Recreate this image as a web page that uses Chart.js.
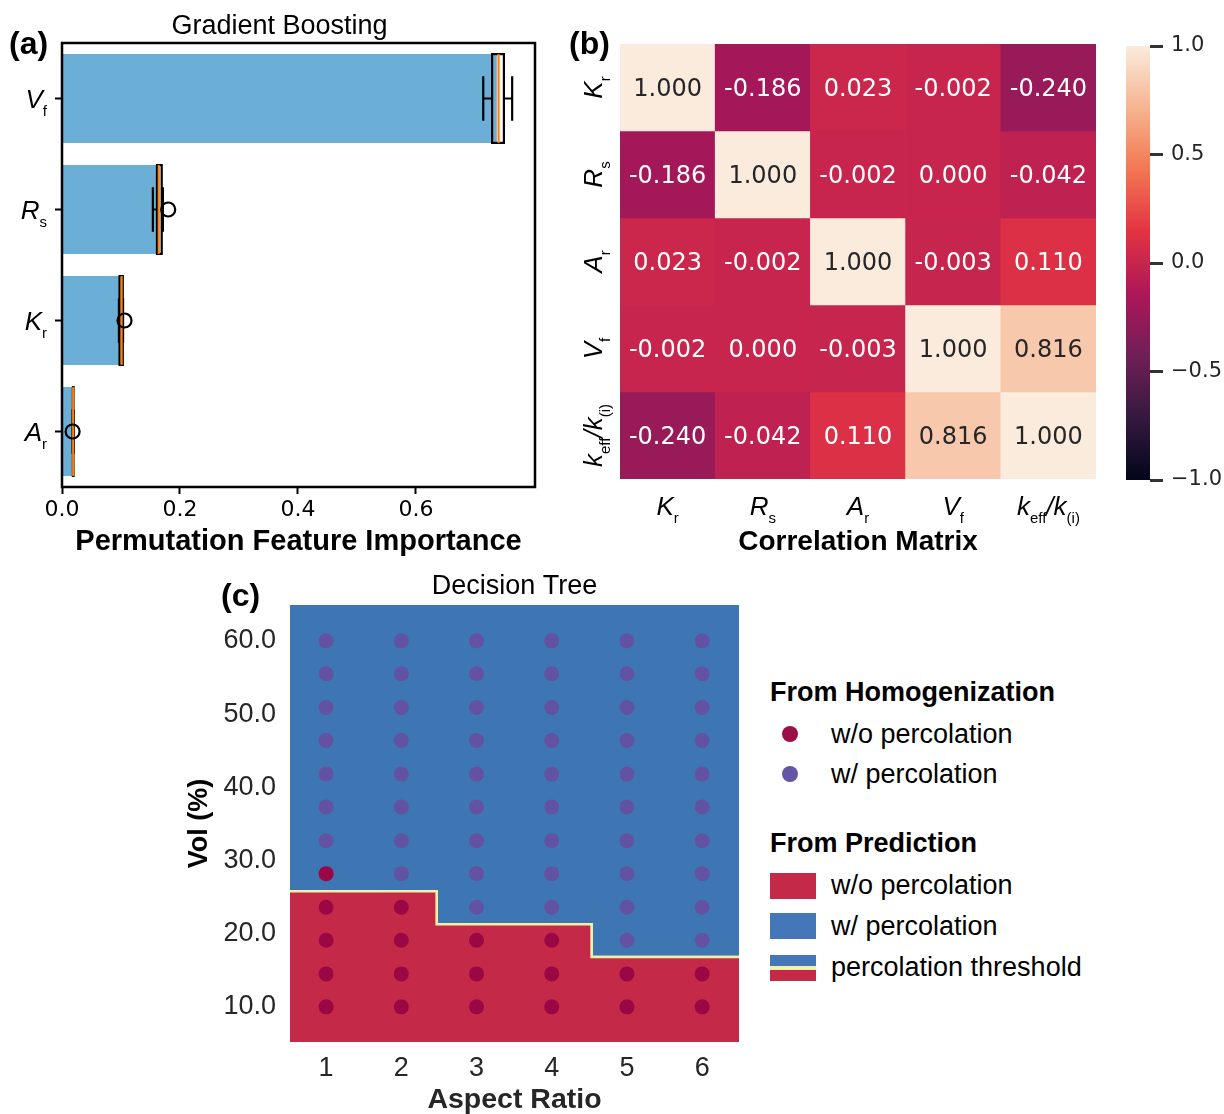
<!DOCTYPE html>
<html>
<head>
<meta charset="utf-8">
<script src="https://cdn.jsdelivr.net/npm/chart.js@4.4.0/dist/chart.umd.min.js"></script>
<style>
  body { margin: 0; background: #fff; }
  #fig { position: relative; width: 1224px; height: 1114px; overflow: hidden; font-family: "Liberation Sans", Arial, sans-serif; color: #000; }
  canvas { position: absolute; }
  .plab { position: absolute; font-weight: bold; font-size: 32px; line-height: 32px; }
  .lg-h { position: absolute; font-weight: bold; font-size: 27px; line-height: 28px; white-space: nowrap; }
  .lg-t { position: absolute; font-size: 27px; line-height: 28px; white-space: nowrap; }
  .dot { position: absolute; width: 16px; height: 16px; border-radius: 50%; }
  .sw { position: absolute; width: 46px; height: 26px; }
</style>
</head>
<body>
<div id="fig">
  <canvas id="cA" width="560" height="560" style="left:0px;top:0px"></canvas>
  <canvas id="cB" width="550" height="560" style="left:560px;top:0px"></canvas>
  <canvas id="cBar" width="114" height="560" style="left:1110px;top:0px"></canvas>
  <canvas id="cC" width="570" height="549" style="left:180px;top:565px"></canvas>

  <div class="plab" style="left:9px;top:27px">(a)</div>
  <div class="plab" style="left:569px;top:27px">(b)</div>
  <div class="plab" style="left:221px;top:579px">(c)</div>

  <div class="lg-h" style="left:770px;top:678px">From Homogenization</div>
  <div class="dot" style="left:782px;top:726px;background:#9b0f46"></div>
  <div class="lg-t" style="left:831px;top:720px">w/o percolation</div>
  <div class="dot" style="left:782px;top:766px;background:#6455a5"></div>
  <div class="lg-t" style="left:831px;top:760px">w/ percolation</div>

  <div class="lg-h" style="left:770px;top:829px">From Prediction</div>
  <div class="sw" style="left:770px;top:873px;background:#c42a48"></div>
  <div class="lg-t" style="left:831px;top:871px">w/o percolation</div>
  <div class="sw" style="left:770px;top:913px;background:#4477b8"></div>
  <div class="lg-t" style="left:831px;top:912px">w/ percolation</div>
  <div class="sw" style="left:770px;top:955px;background:linear-gradient(#4477b8 0,#4477b8 11px,#f6f1a6 11px,#f6f1a6 15px,#c42a48 15px,#c42a48 26px)"></div>
  <div class="lg-t" style="left:831px;top:953px">percolation threshold</div>
</div>

<script>
// ---- (a) permutation importance ----
const features = ['Vf', 'Rs', 'Kr', 'Ar'];
const featureParts = [[['V', 0], ['f', 1]], [['R', 0], ['s', 1]], [['K', 0], ['r', 1]], [['A', 0], ['r', 1]]];
const importanceMean = [0.737, 0.164, 0.101, 0.019];
const boxQ1 = [0.729, 0.161, 0.0975, 0.0185];
const boxMedian = [0.740, 0.164, 0.101, 0.019];
const boxQ3 = [0.749, 0.169, 0.103, 0.0195];
const whiskerLow = [0.714, 0.154, 0.0965, 0.018];
const whiskerHigh = [0.763, 0.171, 0.1035, 0.020];
const fliers = [[], [0.180], [0.106], [0.018]];
const importanceTicks = [0, 0.2, 0.4, 0.6];

// ---- (b) correlation matrix ----
const corrNames = ['Kr', 'Rs', 'Ar', 'Vf', 'keff/k(i)'];
const corrParts = [
  [['K', 0], ['r', 1]], [['R', 0], ['s', 1]], [['A', 0], ['r', 1]], [['V', 0], ['f', 1]],
  [['k', 0], ['eff', 1], ['/k', 0], ['(i)', 1]]
];
const corrMatrix = [
  [1.000, -0.186, 0.023, -0.002, -0.240],
  [-0.186, 1.000, -0.002, 0.000, -0.042],
  [0.023, -0.002, 1.000, -0.003, 0.110],
  [-0.002, 0.000, -0.003, 1.000, 0.816],
  [-0.240, -0.042, 0.110, 0.816, 1.000]
];
const colorbarTicks = [-1, -0.5, 0, 0.5, 1];

// ---- (c) decision tree ----
const aspectRatios = [1, 2, 3, 4, 5, 6];
const volLevels = [10.0, 14.5, 19.1, 23.6, 28.2, 32.7, 37.3, 41.8, 46.4, 50.9, 55.5, 60.0];
const firstPercolatingLevel = [5, 4, 3, 3, 2, 2]; // index in volLevels where each AR starts percolating
const boundaryAR = [0.52, 2.47, 2.47, 4.53, 4.53, 6.49];
const boundaryVol = [25.8, 25.8, 21.3, 21.3, 16.8, 16.8];
const volTicks = [10, 20, 30, 40, 50, 60];

const rocketStops = [
  [0, [3, 5, 26]], [1 / 7, [53, 25, 62]], [2 / 7, [112, 31, 87]], [3 / 7, [173, 23, 89]],
  [4 / 7, [225, 51, 66]], [5 / 7, [243, 118, 81]], [6 / 7, [246, 180, 143]], [1, [250, 235, 221]]
];
function rocket(v) {
  const t = Math.max(0, Math.min(1, (v + 1) / 2));
  for (let i = 1; i < rocketStops.length; i++) {
    if (t <= rocketStops[i][0]) {
      const [t0, c0] = rocketStops[i - 1], [t1, c1] = rocketStops[i];
      const f = (t - t0) / (t1 - t0);
      const c = c0.map((a, k) => Math.round(a + (c1[k] - a) * f));
      return `rgb(${c[0]},${c[1]},${c[2]})`;
    }
  }
  return 'rgb(250,235,221)';
}

Chart.defaults.font.family = '"Liberation Sans", Arial, sans-serif';
Chart.defaults.color = '#000';
Chart.defaults.animation = false;
Chart.defaults.responsive = false;
Chart.defaults.devicePixelRatio = 1;
Chart.defaults.plugins.legend.display = false;
Chart.defaults.plugins.tooltip.enabled = false;

// italic symbol with upright subscript
function drawRich(ctx, parts, x, y, base, sub, align, rot, color) {
  const fontOf = s => s ? `${sub}px "Liberation Sans"` : `italic ${base}px "Liberation Sans"`;
  let w = 0;
  parts.forEach(([t, s]) => { ctx.font = fontOf(s); w += ctx.measureText(t).width; });
  ctx.save();
  ctx.translate(x, y);
  if (rot) ctx.rotate(rot);
  ctx.fillStyle = color;
  ctx.textAlign = 'left';
  ctx.textBaseline = 'alphabetic';
  let cx = align === 'right' ? -w : -w / 2;
  const baseLine = base * 0.36;
  parts.forEach(([t, s]) => {
    ctx.font = fontOf(s);
    ctx.fillText(t, cx, s ? baseLine + base * 0.3 : baseLine);
    cx += ctx.measureText(t).width;
  });
  ctx.restore();
}

const boxPlugin = {
  id: 'boxes',
  afterDatasetsDraw(chart) {
    const { ctx, scales: { x, y } } = chart;
    const meta = chart.getDatasetMeta(0);
    const px = v => x.getPixelForValue(v);
    ctx.save();
    features.forEach((f, i) => {
      const h = meta.data[i].height;
      const cy = y.getPixelForValue(i);
      ctx.lineWidth = 2.2;
      ctx.strokeStyle = '#000';
      ctx.beginPath();
      ctx.moveTo(px(whiskerLow[i]), cy); ctx.lineTo(px(boxQ1[i]), cy);
      ctx.moveTo(px(boxQ3[i]), cy); ctx.lineTo(px(whiskerHigh[i]), cy);
      ctx.moveTo(px(whiskerLow[i]), cy - h / 4); ctx.lineTo(px(whiskerLow[i]), cy + h / 4);
      ctx.moveTo(px(whiskerHigh[i]), cy - h / 4); ctx.lineTo(px(whiskerHigh[i]), cy + h / 4);
      ctx.stroke();
      ctx.strokeRect(px(boxQ1[i]), cy - h / 2, px(boxQ3[i]) - px(boxQ1[i]), h);
      ctx.strokeStyle = '#ff7f0e';
      ctx.beginPath();
      ctx.moveTo(px(boxMedian[i]), cy - h / 2); ctx.lineTo(px(boxMedian[i]), cy + h / 2);
      ctx.stroke();
      ctx.strokeStyle = '#000';
      fliers[i].forEach(v => {
        ctx.beginPath();
        ctx.arc(px(v), cy, 7, 0, Math.PI * 2);
        ctx.stroke();
      });
    });
    ctx.restore();
  },
  afterDraw(chart) {
    const { ctx, chartArea: a, scales: { y } } = chart;
    ctx.save();
    ctx.lineWidth = 2.5;
    ctx.strokeStyle = '#000';
    ctx.strokeRect(a.left, a.top, a.right - a.left, a.bottom - a.top);
    ctx.restore();
    features.forEach((f, i) => drawRich(ctx, featureParts[i], a.left - 15, y.getPixelForValue(i), 26, 15, 'right', 0, '#000'));
  }
};

new Chart(document.getElementById('cA'), {
  type: 'bar',
  data: {
    labels: features,
    datasets: [{ data: importanceMean, backgroundColor: '#6baed6', barPercentage: 0.8, categoryPercentage: 1, borderWidth: 0 }]
  },
  options: {
    indexAxis: 'y',
    layout: { padding: { left: 24, right: 25 } },
    plugins: {
      title: { display: true, text: 'Gradient Boosting', color: '#000', font: { size: 27, weight: 'normal', lineHeight: 1 }, padding: { top: 13, bottom: 3 } }
    },
    scales: {
      x: {
        min: 0, max: 0.8017,
        afterBuildTicks: s => { s.ticks = importanceTicks.map(v => ({ value: v })); },
        afterFit: s => { s.height = 73; },
        ticks: { callback: v => v.toFixed(1), font: { family: 'DejaVu Sans', size: 22 }, color: '#000', padding: 3, maxRotation: 0 },
        grid: { drawOnChartArea: false, tickLength: 7, tickWidth: 2, tickColor: '#000' },
        border: { display: false },
        title: { display: true, text: 'Permutation Feature Importance', color: '#000', font: { size: 29, weight: 'bold', lineHeight: 1 }, padding: { top: 0, bottom: 3.5 } }
      },
      y: {
        afterFit: s => { s.width = 38; },
        ticks: { callback: () => '' },
        grid: { drawOnChartArea: false, offset: false, tickLength: 7, tickWidth: 2, tickColor: '#000' },
        border: { display: false }
      }
    }
  },
  plugins: [boxPlugin]
});

// ---- (b) heatmap from floating bars ----
const heatLabels = {
  id: 'heatLabels',
  afterDatasetsDraw(chart) {
    const { ctx, chartArea: a, scales: { x, y } } = chart;
    ctx.save();
    ctx.font = '24px "DejaVu Sans"';
    ctx.textAlign = 'center';
    ctx.textBaseline = 'middle';
    corrMatrix.forEach((row, r) => row.forEach((v, c) => {
      ctx.fillStyle = v > 0.5 ? '#262626' : '#ffffff';
      ctx.fillText(v.toFixed(3), x.getPixelForValue(c), y.getPixelForValue(r + 0.5) + 2);
    }));
    ctx.restore();
    corrParts.forEach((p, i) => {
      drawRich(ctx, p, x.getPixelForValue(i), a.bottom + 27, 26, 15, 'center', 0, '#000');
      drawRich(ctx, p, a.left - 27, y.getPixelForValue(i + 0.5), 26, 15, 'center', -Math.PI / 2, '#000');
    });
  }
};

new Chart(document.getElementById('cB'), {
  type: 'bar',
  data: {
    labels: corrNames,
    datasets: corrMatrix.map((row, r) => ({
      data: row.map(() => [r, r + 1]),
      backgroundColor: row.map(rocket),
      borderWidth: 0,
      grouped: false,
      barPercentage: 1,
      categoryPercentage: 1
    }))
  },
  options: {
    layout: { padding: { top: 44, right: 14 } },
    scales: {
      x: {
        afterFit: s => { s.height = 81; },
        ticks: { callback: () => '' },
        grid: { display: false },
        border: { display: false },
        title: { display: true, text: 'Correlation Matrix', color: '#000', font: { size: 28, weight: 'bold', lineHeight: 1 }, padding: { top: 0, bottom: 4 } }
      },
      y: {
        min: 0, max: 5, reverse: true,
        afterFit: s => { s.width = 60; },
        ticks: { display: false },
        grid: { display: false },
        border: { display: false }
      }
    }
  },
  plugins: [heatLabels]
});

new Chart(document.getElementById('cBar'), {
  type: 'bar',
  data: {
    labels: ['r'],
    datasets: [{
      data: [[colorbarTicks[0], colorbarTicks[colorbarTicks.length - 1]]],
      barPercentage: 1, categoryPercentage: 1, borderWidth: 0,
      backgroundColor: (c) => {
        const area = c.chart.chartArea;
        if (!area) return 'rgb(203,27,79)';
        const g = c.chart.ctx.createLinearGradient(0, area.bottom, 0, area.top);
        rocketStops.forEach(([t, col]) => g.addColorStop(t, `rgb(${col[0]},${col[1]},${col[2]})`));
        return g;
      }
    }]
  },
  options: {
    layout: { padding: { left: 16, top: 46, bottom: 80 } },
    scales: {
      x: { display: false },
      y: {
        position: 'right', min: -1, max: 1,
        afterBuildTicks: s => { s.ticks = colorbarTicks.map(v => ({ value: v })); },
        afterFit: s => { s.width = 74; },
        ticks: { callback: v => (v < 0 ? '\u2212' : '') + Math.abs(v).toFixed(1), font: { family: 'DejaVu Sans', size: 21 }, color: '#262626', padding: 8 },
        grid: { drawOnChartArea: false, tickLength: 13, tickWidth: 3, tickColor: '#333' },
        border: { display: false }
      }
    }
  }
});

// ---- (c) decision tree ----
const noPercPts = [], percPts = [];
aspectRatios.forEach((ar, i) => volLevels.forEach((v, k) => {
  (k < firstPercolatingLevel[i] ? noPercPts : percPts).push({ x: ar, y: v });
}));
const boundary = boundaryAR.map((x, i) => ({ x, y: boundaryVol[i] }));

new Chart(document.getElementById('cC'), {
  type: 'scatter',
  data: {
    datasets: [
      { data: noPercPts, backgroundColor: '#9b0644', borderWidth: 0, pointRadius: 7.5, order: 0 },
      { data: percPts, backgroundColor: '#6352a3', borderWidth: 0, pointRadius: 7.5, order: 0 },
      { type: 'line', data: boundary, borderColor: '#f6f1a6', borderWidth: 2.5, backgroundColor: '#c42a48', fill: 'start', pointRadius: 0, tension: 0, order: 2 },
      { type: 'line', data: boundary, borderColor: '#f6f1a6', borderWidth: 2.5, backgroundColor: '#3e76b4', fill: 'end', pointRadius: 0, tension: 0, order: 2 }
    ]
  },
  options: {
    layout: { padding: { right: 11 } },
    plugins: {
      title: { display: true, fullSize: false, text: 'Decision Tree', color: '#000', font: { size: 27, weight: 'normal', lineHeight: 1 }, padding: { top: 8.5, bottom: 4.5 } }
    },
    scales: {
      x: {
        type: 'linear', min: 0.52, max: 6.49,
        afterBuildTicks: s => { s.ticks = aspectRatios.map(v => ({ value: v })); },
        afterFit: s => { s.height = 72; },
        ticks: { font: { size: 27 }, color: '#262626', padding: 10 },
        grid: { display: false, drawTicks: false },
        border: { display: false },
        title: { display: true, text: 'Aspect Ratio', color: '#262626', font: { size: 28.5, weight: 'bold', lineHeight: 1 }, padding: { top: 0, bottom: 0 } }
      },
      y: {
        min: 5.2, max: 64.9,
        afterBuildTicks: s => { s.ticks = volTicks.map(v => ({ value: v })); },
        afterFit: s => { s.width = 110; },
        ticks: { callback: v => v.toFixed(1), font: { size: 27 }, color: '#262626', padding: 14 },
        grid: { display: false, drawTicks: false },
        border: { display: false },
        title: { display: true, text: 'Vol (%)', color: '#000', font: { size: 27, weight: 'bold', lineHeight: 1 }, padding: { top: 6.5, bottom: 0 } }
      }
    }
  }
});
</script>
</body>
</html>
